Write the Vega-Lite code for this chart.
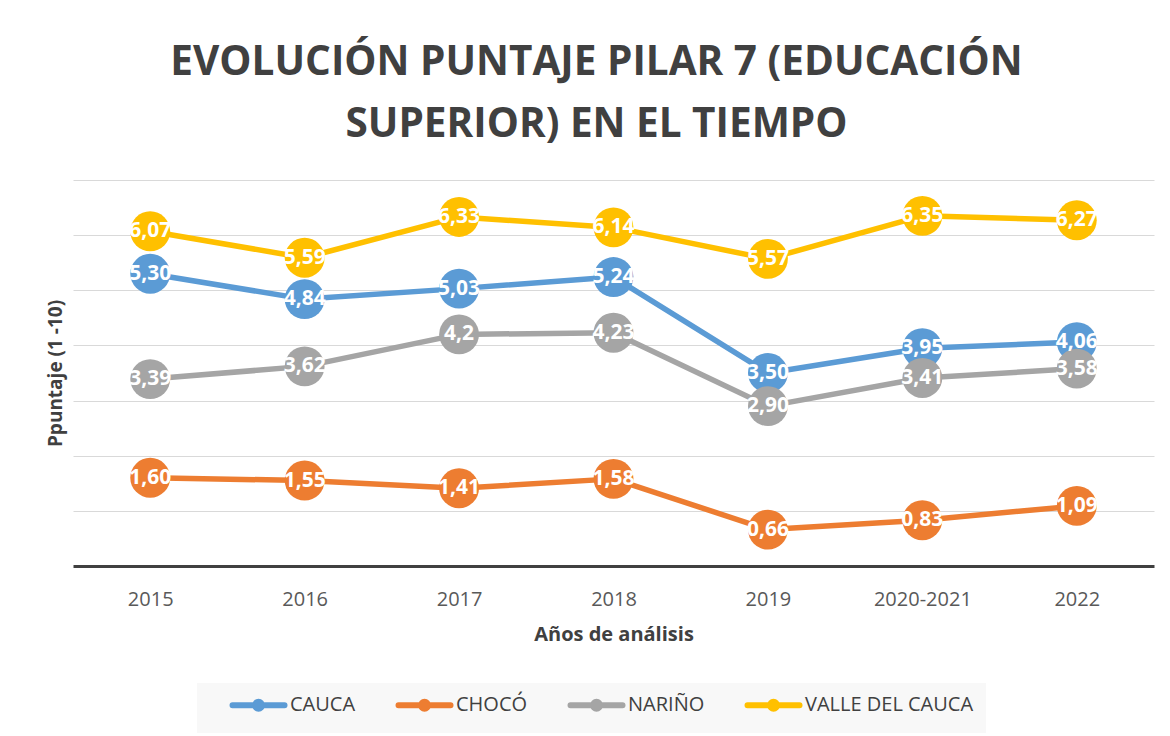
{
  "$schema": "https://vega.github.io/schema/vega-lite/v6.json",
  "autosize": {"type": "none"},
  "width": 1081,
  "height": 386,
  "padding": {"left": 73, "top": 180, "right": 16, "bottom": 170},
  "background": "white",
  "title": {
    "text": ["EVOLUCIÓN PUNTAJE PILAR 7 (EDUCACIÓN", "SUPERIOR) EN EL TIEMPO"],
    "font": "Open Sans",
    "fontSize": 40.5,
    "fontWeight": "bold",
    "color": "#404040",
    "anchor": "middle",
    "dx": -17,
    "offset": 35,
    "lineHeight": 62
  },
  "data": {
    "values": [
      {"anio": "2015", "depto": "CAUCA", "puntaje": 5.30, "label": "5,30"},
      {"anio": "2016", "depto": "CAUCA", "puntaje": 4.84, "label": "4,84"},
      {"anio": "2017", "depto": "CAUCA", "puntaje": 5.03, "label": "5,03"},
      {"anio": "2018", "depto": "CAUCA", "puntaje": 5.24, "label": "5,24"},
      {"anio": "2019", "depto": "CAUCA", "puntaje": 3.50, "label": "3,50"},
      {"anio": "2020-2021", "depto": "CAUCA", "puntaje": 3.95, "label": "3,95"},
      {"anio": "2022", "depto": "CAUCA", "puntaje": 4.06, "label": "4,06"},
      {"anio": "2015", "depto": "CHOCÓ", "puntaje": 1.60, "label": "1,60"},
      {"anio": "2016", "depto": "CHOCÓ", "puntaje": 1.55, "label": "1,55"},
      {"anio": "2017", "depto": "CHOCÓ", "puntaje": 1.41, "label": "1,41"},
      {"anio": "2018", "depto": "CHOCÓ", "puntaje": 1.58, "label": "1,58"},
      {"anio": "2019", "depto": "CHOCÓ", "puntaje": 0.66, "label": "0,66"},
      {"anio": "2020-2021", "depto": "CHOCÓ", "puntaje": 0.83, "label": "0,83"},
      {"anio": "2022", "depto": "CHOCÓ", "puntaje": 1.09, "label": "1,09"},
      {"anio": "2015", "depto": "NARIÑO", "puntaje": 3.39, "label": "3,39"},
      {"anio": "2016", "depto": "NARIÑO", "puntaje": 3.62, "label": "3,62"},
      {"anio": "2017", "depto": "NARIÑO", "puntaje": 4.2, "label": "4,2"},
      {"anio": "2018", "depto": "NARIÑO", "puntaje": 4.23, "label": "4,23"},
      {"anio": "2019", "depto": "NARIÑO", "puntaje": 2.90, "label": "2,90"},
      {"anio": "2020-2021", "depto": "NARIÑO", "puntaje": 3.41, "label": "3,41"},
      {"anio": "2022", "depto": "NARIÑO", "puntaje": 3.58, "label": "3,58"},
      {"anio": "2015", "depto": "VALLE DEL CAUCA", "puntaje": 6.07, "label": "6,07"},
      {"anio": "2016", "depto": "VALLE DEL CAUCA", "puntaje": 5.59, "label": "5,59"},
      {"anio": "2017", "depto": "VALLE DEL CAUCA", "puntaje": 6.33, "label": "6,33"},
      {"anio": "2018", "depto": "VALLE DEL CAUCA", "puntaje": 6.14, "label": "6,14"},
      {"anio": "2019", "depto": "VALLE DEL CAUCA", "puntaje": 5.57, "label": "5,57"},
      {"anio": "2020-2021", "depto": "VALLE DEL CAUCA", "puntaje": 6.35, "label": "6,35"},
      {"anio": "2022", "depto": "VALLE DEL CAUCA", "puntaje": 6.27, "label": "6,27"}
    ]
  },
  "encoding": {
    "x": {
      "field": "anio",
      "type": "ordinal",
      "sort": null,
      "scale": {"type": "point", "padding": 0.5},
      "axis": {
        "title": "Años de análisis",
        "titleFont": "Open Sans",
        "titleFontSize": 20,
        "titleFontWeight": "bold",
        "titleColor": "#404040",
        "titlePadding": 15,
        "labelFont": "Open Sans",
        "labelFontSize": 20,
        "labelColor": "#595959",
        "labelPadding": 23,
        "labelAngle": 0,
        "ticks": false,
        "grid": false,
        "domain": true,
        "domainColor": "#404040",
        "domainWidth": 3
      }
    },
    "y": {
      "field": "puntaje",
      "type": "quantitative",
      "scale": {"domain": [0, 7], "nice": false, "zero": true},
      "axis": {
        "title": "Ppuntaje (1 -10)",
        "titleFont": "Open Sans",
        "titleFontSize": 19,
        "titleFontWeight": "bold",
        "titleColor": "#404040",
        "titlePadding": 8,
        "values": [1, 2, 3, 4, 5, 6, 7],
        "labels": false,
        "ticks": false,
        "domain": false,
        "grid": true,
        "gridColor": "#D9D9D9",
        "gridWidth": 1
      }
    },
    "color": {
      "field": "depto",
      "type": "nominal",
      "scale": {
        "domain": ["CAUCA", "CHOCÓ", "NARIÑO", "VALLE DEL CAUCA"],
        "range": ["#5B9BD5", "#ED7D31", "#A5A5A5", "#FFC000"]
      },
      "legend": {
        "orient": "none",
        "legendX": 124,
        "legendY": 503,
        "direction": "horizontal",
        "title": null,
        "fillColor": "#F8F8F8",
        "padding": 12,
        "symbolType": "M2.08,0L10.08,0M5.54,0A0.54,0.54,0,1,1,6.62,0A0.54,0.54,0,1,1,5.54,0Z",
        "symbolSize": 169,
        "symbolStrokeWidth": 6,
        "labelFont": "Open Sans",
        "labelFontSize": 20,
        "labelColor": "#404040",
        "labelOffset": 61,
        "columnPadding": 19,
        "labelLimit": 400,
        "encode": {
          "symbols": {
            "update": {
              "fill": {"scale": "color", "field": "value"},
              "stroke": {"scale": "color", "field": "value"},
              "strokeCap": {"value": "round"},
              "opacity": {"value": 1}
            }
          }
        }
      }
    }
  },
  "layer": [
    {"mark": {"type": "line", "strokeWidth": 5.5, "strokeCap": "round", "strokeJoin": "round"}},
    {"mark": {"type": "point", "filled": true, "shape": "circle", "size": 1590, "opacity": 1, "strokeWidth": 0}},
    {
      "mark": {"type": "text", "font": "Open Sans", "fontWeight": "bold", "fontSize": 21, "align": "center", "baseline": "middle"},
      "encoding": {"text": {"field": "label"}, "color": {"value": "white"}}
    }
  ],
  "config": {"view": {"stroke": null}}
}
